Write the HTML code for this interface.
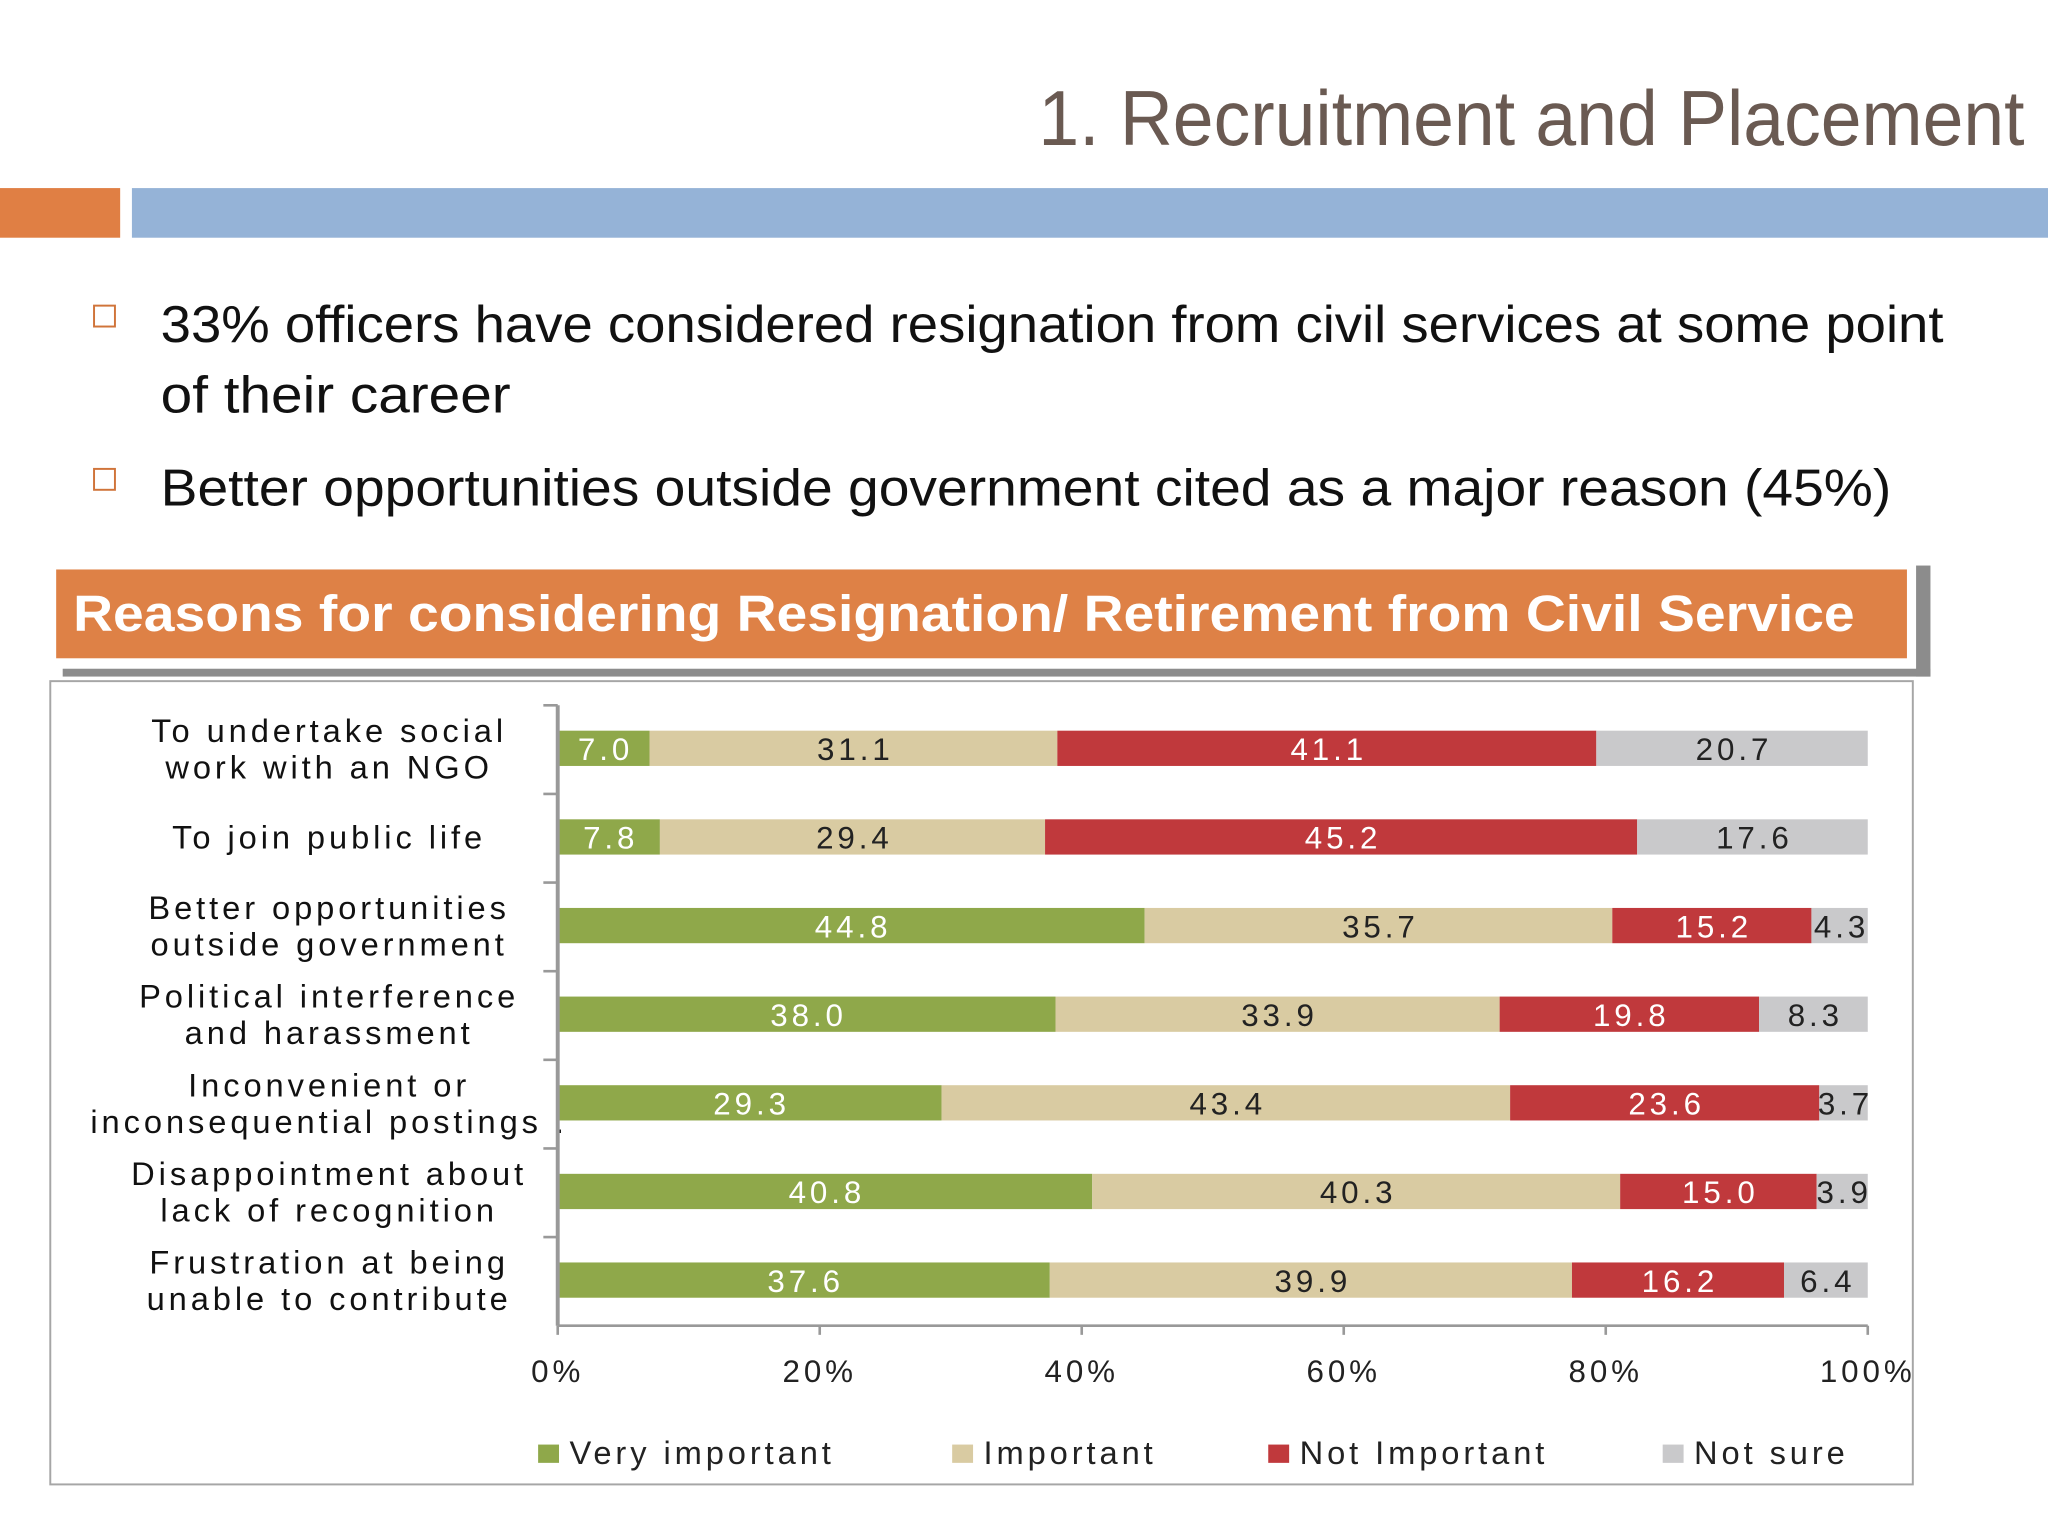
<!DOCTYPE html>
<html><head><meta charset="utf-8"><style>
html,body{margin:0;padding:0;background:#fff;}
svg{display:block;}
</style></head><body>
<svg id="s" width="2048" height="1536" viewBox="0 0 1568 1176" xmlns="http://www.w3.org/2000/svg" font-family="Liberation Sans, sans-serif">
<rect width="1568" height="1176" fill="#fff"/>
<text x="795" y="111" font-size="60" fill="#6a5a52" textLength="755" lengthAdjust="spacingAndGlyphs">1. Recruitment and Placement</text>
<rect x="0" y="144" width="92" height="38" fill="#e07f44"/>
<rect x="101" y="144" width="1467" height="38" fill="#95b3d7"/>
<rect x="72" y="234" width="16" height="16" fill="none" stroke="#d0743a" stroke-width="1.5"/>
<text x="123" y="262" font-size="40" fill="#111" textLength="1365" lengthAdjust="spacingAndGlyphs">33% officers have considered resignation from civil services at some point</text>
<text x="123" y="316" font-size="40" fill="#111" textLength="268" lengthAdjust="spacingAndGlyphs">of their career</text>
<rect x="72" y="359" width="16" height="16" fill="none" stroke="#d0743a" stroke-width="1.5"/>
<text x="123" y="387" font-size="40" fill="#111" textLength="1325" lengthAdjust="spacingAndGlyphs">Better opportunities outside government cited as a major reason (45%)</text>
<rect x="1467" y="433" width="11" height="85" fill="#8c8c8c"/>
<rect x="48" y="512" width="1430" height="6" fill="#8c8c8c"/>
<rect x="43" y="436" width="1417" height="68" fill="#de8146"/>
<text x="56" y="483" font-size="39" font-weight="bold" fill="#fff" textLength="1364" lengthAdjust="spacingAndGlyphs">Reasons for considering Resignation/ Retirement from Civil Service</text>
<rect x="38.5" y="521.5" width="1426" height="615" fill="#fff" stroke="#a6a6a6" stroke-width="1.5"/>
<g id="chart"></g>
</svg>
<script>
const categories=[["To undertake social","work with an NGO"],["To join public life"],["Better opportunities","outside government"],["Political interference","and harassment"],["Inconvenient or","inconsequential postings ."],["Disappointment about","lack of recognition"],["Frustration at being","unable to contribute"]];
const veryImportant=[7.0,7.8,44.8,38.0,29.3,40.8,37.6];
const important=[31.1,29.4,35.7,33.9,43.4,40.3,39.9];
const notImportant=[41.1,45.2,15.2,19.8,23.6,15.0,16.2];
const notSure=[20.7,17.6,4.3,8.3,3.7,3.9,6.4];
const tickLabels=["0%","20%","40%","60%","80%","100%"];
const seriesNames=["Very important","Important","Not Important","Not sure"];
const colors=["#8fa84a","#d9cba2","#c0393c","#c9c9cb"];
const textColors=["#fff","#222","#fff","#222"];
const NS="http://www.w3.org/2000/svg";
const g=document.getElementById('chart');
const x0=427,x1=1430,yTop=540,yBot=1015;
const band=(yBot-yTop)/categories.length;
const xs=v=>x0+(x1-x0)*v/100;
const yc=i=>yTop+band*(i+0.5)-1;
function el(t,a){const e=document.createElementNS(NS,t);for(const k in a)e.setAttribute(k,a[k]);g.appendChild(e);return e;}
const series=[veryImportant,important,notImportant,notSure];
categories.forEach((c,i)=>{
  let acc=0;const tot=series.reduce((s,a)=>s+a[i],0);
  series.forEach((arr,si)=>{
    const v=arr[i]*100/tot;
    const r=el('rect',{x:xs(acc),y:yc(i)-13.5,width:xs(acc+v)-xs(acc),height:27,fill:colors[si]});
    
    
    const t=el('text',{x:(xs(acc)+xs(acc+v))/2+1.5,y:yc(i)+9,'text-anchor':'middle','font-size':24,'letter-spacing':3,fill:textColors[si]});
    t.textContent=arr[i].toFixed(1);
    
    
    acc+=v;
  });
  const lt=el('text',{x:252,'text-anchor':'middle','font-size':25,'letter-spacing':3,fill:'#111'});
  
  
  c.forEach((line,li)=>{const ts=document.createElementNS(NS,'tspan');ts.setAttribute('x',252);ts.setAttribute('y',yc(i)+9+(li-(c.length-1)/2)*28);ts.textContent=line;lt.appendChild(ts);});
  const tk=el('line',{x1:416,x2:427,y1:yTop+band*i,y2:yTop+band*i,stroke:'#999','stroke-width':2});
  
  
});
const ya=el('line',{x1:x0,x2:x0,y1:yTop,y2:yBot,stroke:'#999','stroke-width':3});


const xa=el('line',{x1:x0,x2:x1,y1:yBot,y2:yBot,stroke:'#999','stroke-width':2});


tickLabels.forEach((l,i)=>{
  const v=i*20;
  const tk=el('line',{x1:xs(v),x2:xs(v),y1:yBot,y2:yBot+7,stroke:'#999','stroke-width':2});
  
  
  const t=el('text',{x:xs(v),y:1058,'text-anchor':'middle','font-size':24,'letter-spacing':3,fill:'#222'});
  t.textContent=l;
  
  
});
const lx=[412,729,971,1273];
seriesNames.forEach((n,i)=>{
  const r=el('rect',{x:lx[i],y:1106,width:16,height:14,fill:colors[i]});
  
  
  const t=el('text',{x:lx[i]+24,y:1121,'font-size':25,'letter-spacing':3,fill:'#222'});
  t.textContent=n;
  
  
});
</script>
</body></html>
